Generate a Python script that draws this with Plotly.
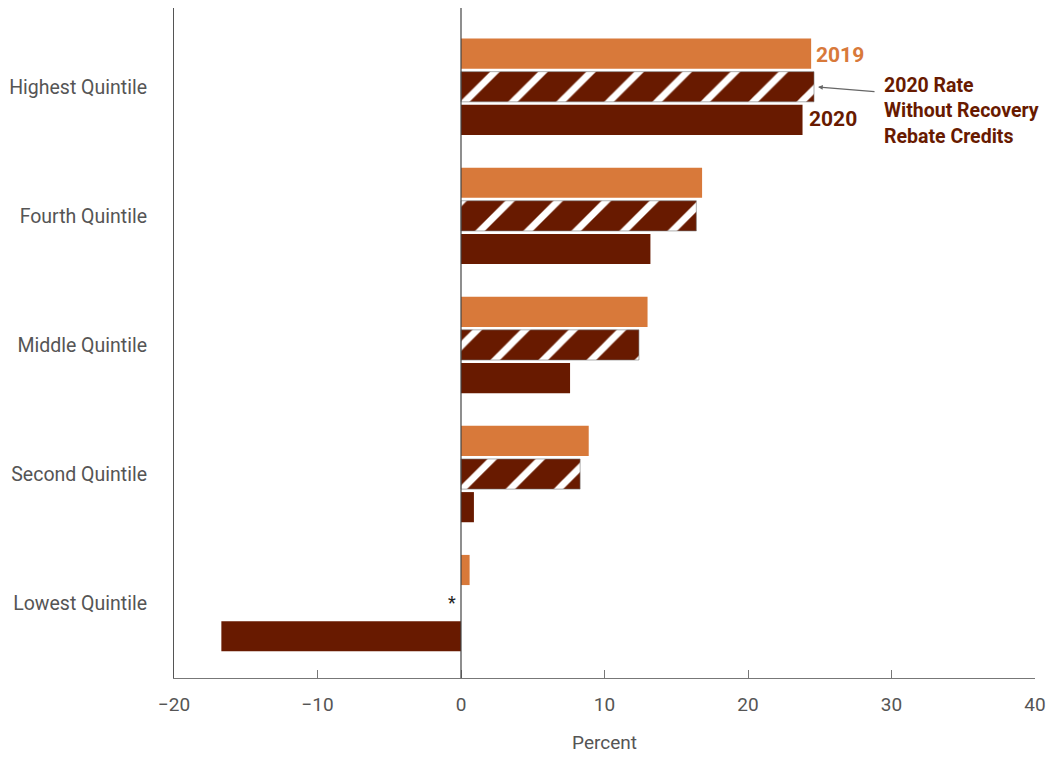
import plotly.graph_objects as go

# Average federal tax rates by income quintile, percent
quintiles = ["Highest Quintile", "Fourth Quintile", "Middle Quintile",
             "Second Quintile", "Lowest Quintile"]
rate_2019 = [24.4, 16.8, 13.0, 8.9, 0.6]
rate_2020_no_rrc = [24.6, 16.4, 12.4, 8.3, None]
rate_2020 = [23.8, 13.2, 7.6, 0.9, -16.7]
x_ticks = [-20, -10, 0, 10, 20, 30, 40]
callout_lines = ["2020 Rate", "Without Recovery", "Rebate Credits"]

ORANGE = "#D8793A"
DARK = "#681A00"
GRAY = "#555555"
FONT = "Roboto"

pos = list(range(len(quintiles)))

fig = go.Figure()
fig.add_trace(go.Bar(y=pos, x=rate_2019, orientation="h", name="2019",
                     marker=dict(color=ORANGE, line=dict(width=0))))
fig.add_trace(go.Bar(y=pos, x=rate_2020_no_rrc, orientation="h",
                     name="2020 Rate Without Recovery Rebate Credits",
                     marker=dict(color=DARK, line=dict(width=0.6, color="#777777"),
                                 pattern=dict(shape="/", bgcolor=DARK, fgcolor="white",
                                              fgopacity=1, size=34, solidity=0.2,
                                              fillmode="replace"))))
fig.add_trace(go.Bar(y=pos, x=rate_2020, orientation="h", name="2020",
                     marker=dict(color=DARK, line=dict(width=0))))

# Series labels on the top group
fig.add_annotation(x=rate_2019[0], y=0, text="<b>2019</b>", showarrow=False,
                   xanchor="left", xshift=3, yshift=32,
                   font=dict(family=FONT, size=21, color=ORANGE))
fig.add_annotation(x=rate_2020[0], y=0, text="<b>2020</b>", showarrow=False,
                   xanchor="left", xshift=4, yshift=-32,
                   font=dict(family=FONT, size=21, color=DARK))
fig.add_annotation(x=rate_2020_no_rrc[0], y=0, text="", showarrow=True,
                   ax=62, ay=5, arrowhead=2, arrowsize=0.8, arrowwidth=1.2,
                   arrowcolor="#666666", standoff=4)
fig.add_annotation(x=rate_2020_no_rrc[0], y=0,
                   text="<b>" + "<br>".join(callout_lines) + "</b>",
                   showarrow=False, xanchor="left", yanchor="middle", align="left",
                   xshift=69, yshift=-24, borderpad=0,
                   font=dict(family=FONT, size=19.5, color=DARK))
# Missing value marker for the lowest quintile
fig.add_annotation(x=0, y=4, text="*", showarrow=False, xshift=-9, yshift=1,
                   font=dict(family=FONT, size=18, color="#222222"))

# Zero reference line
fig.add_shape(type="line", x0=0, x1=0, y0=0, y1=1, yref="paper",
              line=dict(color="#444444", width=1.2))

fig.update_layout(
    width=1053, height=757,
    margin=dict(l=174, r=18, t=8, b=79),
    paper_bgcolor="white", plot_bgcolor="white",
    barmode="group", bargap=0.23, bargroupgap=0.09,
    showlegend=False,
    font=dict(family=FONT, color=GRAY),
    xaxis=dict(range=[-20, 40], tickvals=x_ticks,
               ticktext=[f"\u2212{abs(v)}" if v < 0 else str(v) for v in x_ticks],
               showgrid=False, zeroline=False,
               showline=True, linecolor="#777777", linewidth=1.2,
               ticks="inside", ticklen=8, tickcolor="#777777", tickwidth=1,
               tickfont=dict(size=19, color=GRAY), ticklabelstandoff=9,
               title=dict(text="Percent", font=dict(size=19, color=GRAY), standoff=20)),
    yaxis=dict(range=[4.58, -0.61], tickvals=pos, ticktext=quintiles,
               showgrid=False, zeroline=False,
               showline=True, linecolor="#555555", linewidth=1.2,
               ticks="", tickfont=dict(size=19.5, color=GRAY), ticklabelstandoff=22),
)

fig.write_html("out.html")
